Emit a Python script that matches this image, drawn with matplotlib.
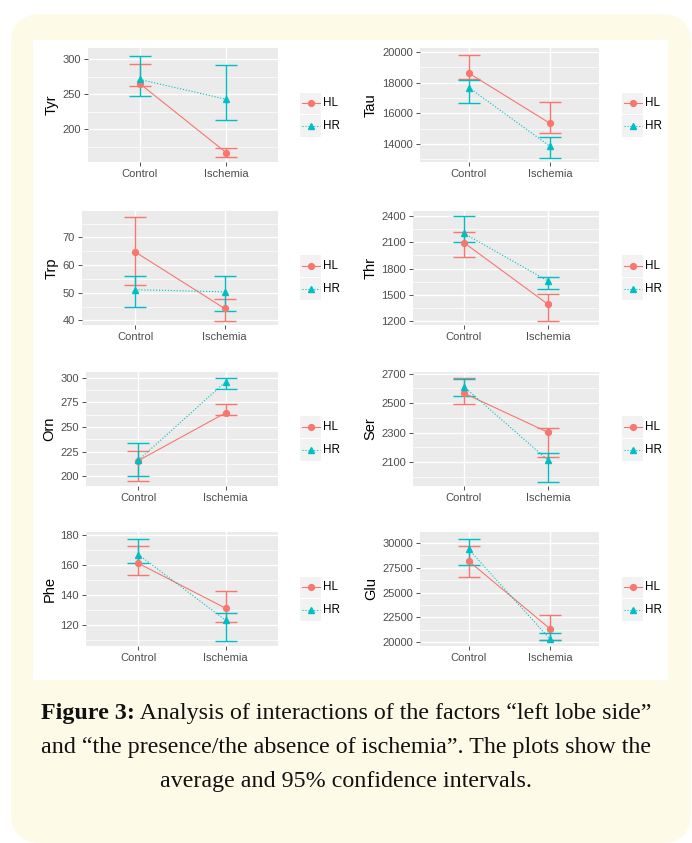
import matplotlib
matplotlib.use("Agg")
import matplotlib.pyplot as plt
from matplotlib.patches import FancyBboxPatch, Rectangle
from matplotlib.ticker import MultipleLocator, FixedLocator

# data (mean, lower CI, upper CI) for Control / Ischemia
groups = ["Control", "Ischemia"]
panels = ["Tyr", "Tau", "Trp", "Thr", "Orn", "Ser", "Phe", "Glu"]

hl_mean = [[265, 166.4], [18620, 15336], [64.7, 44.3], [2098, 1388],
           [215.8, 264.3], [2568, 2301], [161.1, 131.2], [28148, 21347]]
hl_lo = [[261.6, 159.7], [18270, 14680], [52.8, 39.6], [1937, 1200],
         [194.8, 262.2], [2492, 2132], [153.5, 121.8], [26599, 20202]]
hl_hi = [[293, 173.5], [19800, 16715], [77.6, 47.7], [2224, 1510],
         [225.1, 272.9], [2672, 2333], [172.6, 142.5], [29663, 22761]]

hr_mean = [[271, 242.7], [17680, 13832], [51.1, 50.3], [2204, 1655],
           [216.2, 295.9], [2612, 2111], [167, 123.1], [29327, 20303]]
hr_lo = [[248, 212.8], [16672, 13080], [45.0, 43.3], [2106, 1565],
         [200, 289], [2548, 1966], [161.1, 109.2], [27778, 20202]]
hr_hi = [[305, 291.5], [18183, 14460], [56.0, 56.0], [2404, 1698],
         [233.7, 300], [2665, 2160], [177.5, 128.1], [30404, 20909]]

ylims = [(153, 316), (12818, 20263), (38.3, 79.6), (1153, 2459),
         (190, 305.8), (1938, 2711), (106, 182), (19630, 31077)]
yticks = [[200, 250, 300], [14000, 16000, 18000, 20000], [40, 50, 60, 70],
          [1200, 1500, 1800, 2100, 2400], [200, 225, 250, 275, 300],
          [2100, 2300, 2500, 2700], [120, 140, 160, 180],
          [20000, 22500, 25000, 27500, 30000]]

HL_COL = "#F8766D"
HR_COL = "#00BFC4"
SANS = "Liberation Sans"

W, H = 692, 843
fig = plt.figure(figsize=(W / 100, H / 100), dpi=100)
fig.patch.set_facecolor("white")

# background: cream rounded box and white plot area
bg = fig.add_axes([0, 0, 1, 1])
bg.set_xlim(0, W)
bg.set_ylim(H, 0)
bg.axis("off")
bg.add_patch(FancyBboxPatch((11 + 30, 14 + 30), W - 11 - 1 - 60, H - 14 - 60,
                            boxstyle="round,pad=30", fc="#FEFAE8", ec="none"))
bg.add_patch(Rectangle((33, 40), 635, 640, fc="white", ec="none"))


def px_axes(x0, y0, x1, y1):
    return fig.add_axes([x0 / W, 1 - y1 / H, (x1 - x0) / W, (y1 - y0) / H])


row_tops = [48, 211, 372, 532]
lefts = [88, 420, 82, 413, 86, 413, 86, 420]
rights = [278, 599]
legend_x = [300, 622]

for i, name in enumerate(panels):
    row, col = divmod(i, 2)
    top = row_tops[row]
    ax = px_axes(lefts[i], top, rights[col], top + 114)
    ax.set_facecolor("#EBEBEB")
    for s in ax.spines.values():
        s.set_visible(False)
    ax.set_xlim(0.4, 2.6)
    ax.set_ylim(*ylims[i])
    step = yticks[i][1] - yticks[i][0]
    ax.yaxis.set_major_locator(FixedLocator(yticks[i]))
    ax.yaxis.set_minor_locator(MultipleLocator(step / 2))
    ax.set_xticks([1, 2])
    ax.set_xticklabels(groups)
    ax.xaxis.set_minor_locator(MultipleLocator(10))
    ax.grid(True, which="major", color="white", linewidth=1.0)
    ax.grid(True, which="minor", axis="y", color="white", linewidth=0.5)
    ax.set_axisbelow(True)
    ax.tick_params(axis="both", which="major", length=3, width=0.6,
                   color="#333333", labelsize=8, labelcolor="#4D4D4D", pad=2)
    ax.tick_params(axis="both", which="minor", length=0)
    for lab in ax.get_xticklabels() + ax.get_yticklabels():
        lab.set_family(SANS)
    ax.set_ylabel(name, fontsize=10.5, color="black", labelpad=3, family=SANS)

    xs = [1, 2]
    for mean, lo, hi, col_, ls, mk in [
        (hl_mean[i], hl_lo[i], hl_hi[i], HL_COL, "-", "o"),
        (hr_mean[i], hr_lo[i], hr_hi[i], HR_COL, ":", "^"),
    ]:
        ax.errorbar(xs, mean,
                    yerr=[[m - l for m, l in zip(mean, lo)],
                          [h - m for m, h in zip(mean, hi)]],
                    fmt="none", ecolor=col_, elinewidth=1.0, capsize=8,
                    capthick=1.0)
        ax.plot(xs, mean, linestyle=ls, color=col_, linewidth=0.8,
                marker=mk, markersize=4.2, zorder=3)

    # legend (ggplot style keys)
    lx = legend_x[col]
    ly = top + 44
    lg = px_axes(lx, ly, lx + 60, ly + 45)
    lg.set_xlim(0, 60)
    lg.set_ylim(45, 0)
    lg.axis("off")
    for k, (lab, col_, ls, mk) in enumerate([("HL", HL_COL, "-", "o"),
                                              ("HR", HR_COL, ":", "^")]):
        yk = k * 22.5
        lg.add_patch(Rectangle((0, yk + 0.5), 21, 21.5, fc="#F2F2F2", ec="none"))
        lg.plot([1.5, 19.5], [yk + 11.25] * 2, linestyle=ls, color=col_,
                linewidth=0.8)
        lg.plot([10.5], [yk + 11.25], marker=mk, color=col_, markersize=4.2)
        lg.text(23.5, yk + 11.5, lab, fontsize=8.4, color="black",
                va="center", ha="left", family=SANS)

# caption
fig.canvas.draw()
renderer = fig.canvas.get_renderer()
cap_font = dict(family="Liberation Serif", fontsize=17.3, color="#111111")
lines = [
    ("Figure 3:", " Analysis of interactions of the factors \u201cleft lobe side\u201d"),
    ("", "and \u201cthe presence/the absence of ischemia\u201d. The plots show the"),
    ("", "average and 95% confidence intervals."),
]
ys = [713, 747, 782]
for (b, r), yc in zip(lines, ys):
    yf = 1 - yc / H
    tb = fig.text(0, yf, b, fontweight="bold", va="center", ha="left", **cap_font)
    tr = fig.text(0, yf, r, va="center", ha="left", **cap_font)
    wb = tb.get_window_extent(renderer).width if b else 0
    wr = tr.get_window_extent(renderer).width
    x0 = 346 - (wb + wr) / 2
    tb.set_x(x0 / W)
    tr.set_x((x0 + wb) / W)

fig.savefig("out.png", dpi=100)
